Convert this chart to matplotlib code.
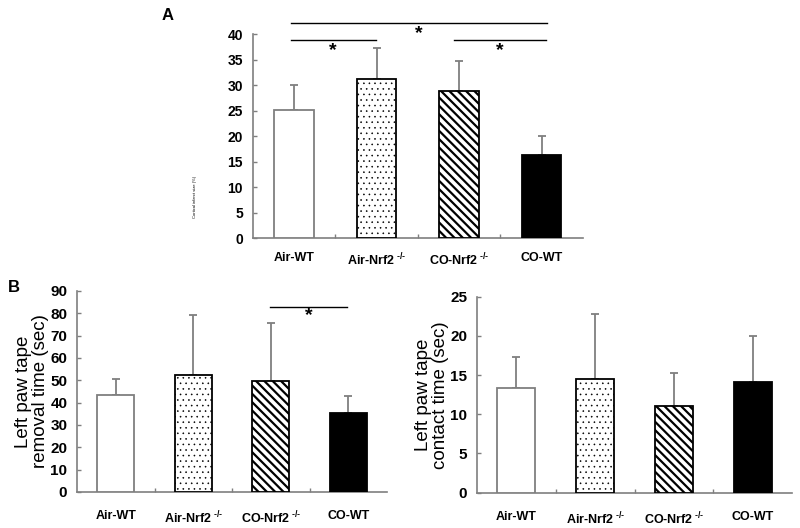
import matplotlib
matplotlib.use("Agg")
import matplotlib.pyplot as plt
import numpy as np

plt.rcParams['font.family'] = ['Liberation Sans', 'DejaVu Sans']
plt.rcParams['mathtext.fontset'] = 'custom'
plt.rcParams['mathtext.rm'] = 'Liberation Sans:bold'
plt.rcParams['mathtext.it'] = 'Liberation Sans:bold'
plt.rcParams['mathtext.bf'] = 'Liberation Sans:bold'

categories = ["Air-WT", "Air-Nrf2$^{\\text{ -/-}}$", "CO-Nrf2$^{\\text{ -/-}}$", "CO-WT"]

infarct_mean = [25.1, 31.2, 28.9, 16.3]
infarct_err = [4.9, 6.1, 5.8, 3.8]

removal_mean = [43.3, 52.2, 49.5, 35.5]
removal_err = [7.4, 27.0, 26.3, 7.5]

contact_mean = [13.4, 14.5, 11.1, 14.1]
contact_err = [3.9, 8.3, 4.2, 5.9]

GRAY = '#7f7f7f'

fig = plt.figure(figsize=(8, 5.28), dpi=100)

def make_axes(rect, means, errs, ymax, ystep, ylabel, ylabel_size, tick_size, xpad):
    ax = fig.add_axes(rect)
    x = np.arange(len(means))
    styles = [dict(color='white', hatch=None, edge=GRAY, hlw=1.0),
              dict(color='white', hatch='...', edge='black', hlw=0.4),
              dict(color='white', hatch='\\\\\\\\', edge='black', hlw=1.6),
              dict(color='black', hatch=None, edge='black', hlw=1.0)]
    for i, (m, e) in enumerate(zip(means, errs)):
        st = styles[i]
        with plt.rc_context({'hatch.linewidth': st['hlw'], 'hatch.color': 'black'}):
            bars = ax.bar(x[i], m, width=0.48, color=st['color'], edgecolor=st['edge'],
                          linewidth=1.3, hatch=st['hatch'], zorder=3)
            for b in bars:
                if hasattr(b, 'set_hatch_linewidth'):
                    b.set_hatch_linewidth(st['hlw'])
        ax.errorbar(x[i], m, yerr=[[0], [e]], fmt='none', ecolor=GRAY,
                    elinewidth=1.3, capsize=3, capthick=1.3, zorder=2)
    ax.set_xlim(-0.5, len(means) - 0.5)
    ax.set_ylim(0, ymax)
    ax.set_yticks(np.arange(0, ymax + 0.01, ystep))
    ax.set_xticks(x)
    ax.set_xticklabels(categories, fontsize=9, fontweight='bold')
    ax.set_xticks(np.arange(0.5, len(means) - 0.5, 1), minor=True)
    ax.tick_params(axis='x', which='major', length=0, pad=xpad)
    ax.tick_params(axis='x', which='minor', direction='in', length=3, color=GRAY, width=1)
    ax.tick_params(axis='y', direction='in', length=3, color=GRAY, width=1,
                   labelsize=tick_size, pad=7)
    for lab in ax.get_yticklabels():
        lab.set_fontweight('bold')
    for s in ['top', 'right']:
        ax.spines[s].set_visible(False)
    for s in ['left', 'bottom']:
        ax.spines[s].set_color(GRAY)
        ax.spines[s].set_linewidth(1.2)
    ax.set_ylabel(ylabel, fontsize=ylabel_size, linespacing=1.0)
    return ax

def sig(ax, x0, x1, y, ystar, lw=1.0):
    ax.plot([x0, x1], [y, y], color='black', lw=lw, clip_on=False, zorder=4)
    ax.text((x0 + x1) / 2, ystar, '*', ha='center', va='center', fontsize=14,
            fontweight='bold', clip_on=False)

# Panel A
axA = make_axes([0.316, 0.549, 0.4125, 0.3864], infarct_mean, infarct_err, 40, 5,
                "Cortical infarct size (%)", 3, 10, 10)
axA.yaxis.set_label_coords(-0.17, 0.2)
sig(axA, -0.04, 3.07, 42.2, 40.2)
sig(axA, -0.04, 0.99, 38.8, 36.8)
sig(axA, 1.94, 3.05, 38.8, 36.8)
fig.text(168 / 800, 1 - 15 / 528, 'A', fontsize=12, fontweight='bold', ha='center', va='center')

# Panel B left
axB1 = make_axes([0.09625, 0.0682, 0.3875, 0.3807], removal_mean, removal_err, 90, 10,
                 "Left paw tape\nremoval time (sec)", 13.5, 11, 13)
axB1.yaxis.set_label_coords(-0.09, 0.5)
sig(axB1, 1.99, 2.99, 83, 79.0)
fig.text(14 / 800, 1 - 288 / 528, 'B', fontsize=12, fontweight='bold', ha='center', va='center')

# Panel B right
axB2 = make_axes([0.59625, 0.0669, 0.394, 0.371], contact_mean, contact_err, 25, 5,
                 "Left paw tape\ncontact time (sec)", 13.5, 11, 13)
axB2.yaxis.set_label_coords(-0.09, 0.5)

fig.savefig('out.png', dpi=100)
